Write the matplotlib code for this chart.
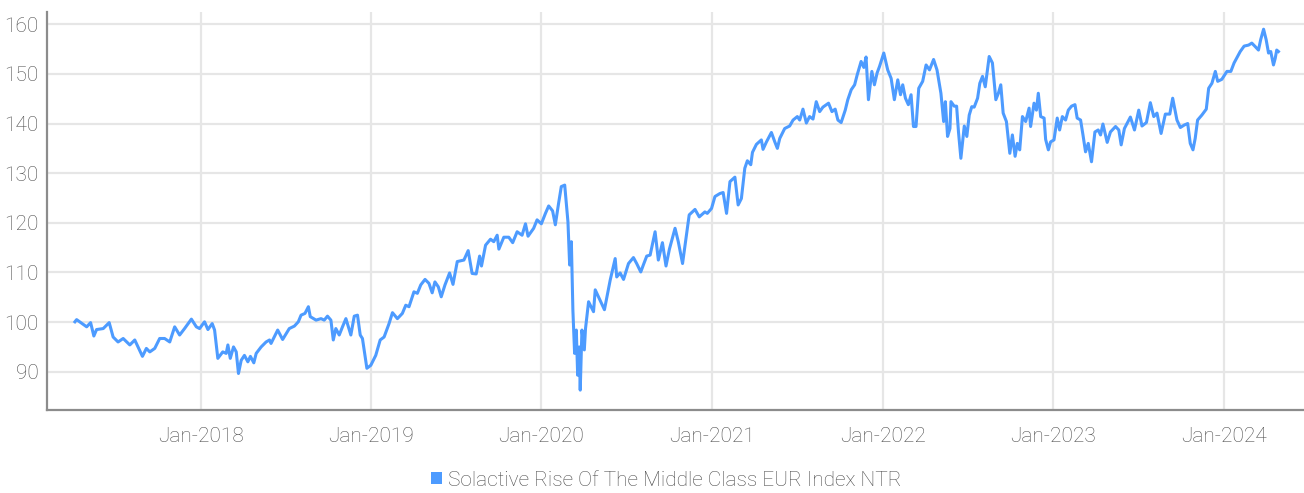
import matplotlib
matplotlib.use("Agg")
import matplotlib.pyplot as plt
import matplotlib.dates as mdates
from matplotlib.patches import Patch
import pandas as pd
import numpy as np

# ---- data: time as fractional year, index level ----
years = [
 2017.263, 2017.273, 2017.332, 2017.355, 2017.374, 2017.390, 2017.429, 2017.464, 2017.487, 2017.516,
 2017.546, 2017.585, 2017.614, 2017.659, 2017.682, 2017.702, 2017.731, 2017.760, 2017.789, 2017.819,
 2017.848, 2017.877, 2017.906, 2017.946, 2017.975, 2017.994, 2018.023, 2018.043, 2018.068, 2018.082,
 2018.101, 2018.130, 2018.150, 2018.160, 2018.174, 2018.193, 2018.209, 2018.222, 2018.238, 2018.257,
 2018.277, 2018.292, 2018.312, 2018.326, 2018.355, 2018.384, 2018.404, 2018.413, 2018.452, 2018.481,
 2018.520, 2018.550, 2018.573, 2018.589, 2018.612, 2018.632, 2018.643, 2018.677, 2018.706, 2018.725,
 2018.744, 2018.764, 2018.778, 2018.793, 2018.813, 2018.832, 2018.852, 2018.881, 2018.901, 2018.920,
 2018.936, 2018.949, 2018.975, 2018.998, 2019.027, 2019.053, 2019.076, 2019.105, 2019.125, 2019.154,
 2019.183, 2019.203, 2019.222, 2019.251, 2019.271, 2019.291, 2019.316, 2019.339, 2019.358, 2019.374,
 2019.394, 2019.411, 2019.433, 2019.460, 2019.480, 2019.505, 2019.544, 2019.569, 2019.592, 2019.616,
 2019.636, 2019.647, 2019.671, 2019.700, 2019.719, 2019.739, 2019.749, 2019.778, 2019.807, 2019.830,
 2019.856, 2019.885, 2019.905, 2019.920, 2019.953, 2019.973, 2019.998, 2020.022, 2020.041, 2020.064,
 2020.080, 2020.099, 2020.115, 2020.135, 2020.154, 2020.164, 2020.174, 2020.183, 2020.193, 2020.203,
 2020.211, 2020.220, 2020.226, 2020.236, 2020.250, 2020.257, 2020.275, 2020.304, 2020.314, 2020.333,
 2020.368, 2020.402, 2020.431, 2020.440, 2020.460, 2020.480, 2020.509, 2020.538, 2020.557, 2020.581,
 2020.596, 2020.616, 2020.636, 2020.665, 2020.684, 2020.708, 2020.729, 2020.749, 2020.782, 2020.801,
 2020.826, 2020.865, 2020.899, 2020.924, 2020.957, 2020.971, 2020.996, 2021.016, 2021.045, 2021.064,
 2021.084, 2021.104, 2021.133, 2021.152, 2021.171, 2021.191, 2021.206, 2021.226, 2021.236, 2021.259,
 2021.288, 2021.298, 2021.318, 2021.347, 2021.367, 2021.382, 2021.396, 2021.425, 2021.454, 2021.474,
 2021.499, 2021.513, 2021.532, 2021.552, 2021.571, 2021.591, 2021.610, 2021.630, 2021.649, 2021.682,
 2021.702, 2021.721, 2021.737, 2021.756, 2021.780, 2021.795, 2021.815, 2021.835, 2021.850, 2021.873,
 2021.889, 2021.902, 2021.916, 2021.936, 2021.951, 2021.967, 2021.981, 2022.006, 2022.029, 2022.049,
 2022.068, 2022.088, 2022.104, 2022.117, 2022.133, 2022.150, 2022.166, 2022.180, 2022.195, 2022.211,
 2022.234, 2022.254, 2022.274, 2022.298, 2022.318, 2022.341, 2022.357, 2022.367, 2022.380, 2022.394,
 2022.400, 2022.419, 2022.433, 2022.444, 2022.458, 2022.478, 2022.493, 2022.507, 2022.522, 2022.536,
 2022.556, 2022.569, 2022.585, 2022.601, 2022.624, 2022.643, 2022.663, 2022.678, 2022.692, 2022.706,
 2022.725, 2022.745, 2022.760, 2022.776, 2022.789, 2022.803, 2022.819, 2022.838, 2022.858, 2022.867,
 2022.887, 2022.901, 2022.912, 2022.926, 2022.946, 2022.955, 2022.971, 2022.984, 2023.004, 2023.023,
 2023.037, 2023.053, 2023.072, 2023.088, 2023.107, 2023.127, 2023.140, 2023.160, 2023.174, 2023.189,
 2023.205, 2023.224, 2023.244, 2023.263, 2023.277, 2023.291, 2023.316, 2023.335, 2023.365, 2023.384,
 2023.398, 2023.417, 2023.452, 2023.476, 2023.501, 2023.520, 2023.546, 2023.569, 2023.589, 2023.608,
 2023.632, 2023.657, 2023.683, 2023.700, 2023.725, 2023.745, 2023.768, 2023.788, 2023.803, 2023.819,
 2023.832, 2023.846, 2023.871, 2023.897, 2023.911, 2023.930, 2023.950, 2023.964, 2023.988, 2024.018,
 2024.041, 2024.060, 2024.080, 2024.096, 2024.119, 2024.145, 2024.164, 2024.184, 2024.203, 2024.216,
 2024.233, 2024.248, 2024.262, 2024.275, 2024.291, 2024.301, 2024.310, 2024.320,
]
values = [
 100.06, 100.5, 99.05, 99.9, 97.2, 98.5, 98.7, 99.9, 97.0, 96.0,
 96.7, 95.4, 96.4, 93.1, 94.7, 94.0, 94.7, 96.7, 96.7, 96.0,
 99.05, 97.4, 98.7, 100.6, 99.05, 98.7, 100.06, 98.5, 99.7, 98.4,
 92.7, 94.0, 93.7, 95.4, 92.7, 95.0, 94.0, 89.65, 92.3, 93.3,
 92.0, 93.1, 91.8, 93.7, 95.0, 96.0, 96.4, 95.7, 98.4, 96.5,
 98.7, 99.2, 100.06, 101.4, 101.75, 103.1, 101.1, 100.4, 100.7, 100.4,
 101.2, 100.4, 96.4, 98.7, 97.4, 99.05, 100.7, 97.4, 101.2, 101.4,
 97.4, 96.7, 90.7, 91.3, 93.3, 96.4, 97.0, 99.7, 101.9, 100.7,
 101.75, 103.4, 103.1, 106.1, 105.8, 107.5, 108.6, 107.8, 105.9, 108.1,
 107.1, 105.1, 107.5, 109.9, 107.6, 112.2, 112.5, 114.4, 109.8, 109.7,
 113.3, 111.3, 115.5, 116.7, 116.2, 117.5, 114.7, 117.1, 117.1, 116.0,
 118.2, 117.5, 119.8, 117.3, 118.9, 120.6, 119.8, 121.9, 123.4, 122.4,
 119.6, 123.9, 127.3, 127.6, 120.2, 111.5, 116.2, 102.4, 93.7, 98.4,
 89.3, 95.0, 86.3, 98.4, 94.4, 98.7, 104.1, 102.1, 106.5, 105.1,
 102.5, 108.5, 112.8, 109.1, 109.9, 108.6, 111.8, 113.0, 111.8, 110.1,
 111.5, 113.3, 113.5, 118.2, 112.5, 116.0, 111.3, 114.7, 118.9, 116.2,
 111.8, 121.6, 122.7, 121.2, 122.2, 121.9, 122.9, 125.3, 125.9, 126.1,
 121.9, 128.3, 129.2, 123.6, 124.9, 131.0, 132.5, 131.7, 134.2, 135.8,
 136.7, 134.8, 136.3, 138.2, 136.3, 135.0, 137.0, 139.0, 139.5, 140.7,
 141.4, 140.7, 142.9, 140.1, 141.4, 140.9, 144.4, 142.4, 143.3, 144.1,
 142.4, 142.9, 140.7, 140.2, 142.7, 144.8, 146.8, 147.8, 149.8, 152.5,
 151.3, 153.4, 144.8, 150.5, 147.8, 150.2, 151.5, 154.2, 150.8, 149.1,
 144.8, 148.8, 145.8, 147.8, 145.1, 143.8, 145.8, 139.4, 139.4, 147.1,
 148.5, 151.8, 150.8, 152.9, 150.8, 146.1, 140.4, 144.4, 137.4, 139.0,
 144.4, 143.5, 143.5, 138.3, 133.0, 139.5, 137.4, 141.7, 143.4, 143.3,
 145.1, 148.1, 149.5, 147.4, 153.5, 152.2, 144.8, 146.1, 147.8, 142.1,
 140.4, 134.0, 137.7, 133.4, 136.0, 134.7, 141.4, 140.4, 143.1, 139.4,
 144.1, 142.7, 146.1, 141.4, 141.1, 136.8, 134.7, 136.3, 136.7, 141.1,
 138.7, 141.4, 140.7, 142.7, 143.5, 143.8, 141.1, 140.7, 137.7, 134.3,
 136.0, 132.3, 138.3, 138.7, 137.7, 139.9, 136.2, 138.3, 139.4, 138.7,
 135.7, 139.0, 141.3, 138.7, 142.7, 139.5, 140.2, 144.2, 141.4, 142.1,
 138.0, 141.9, 141.9, 145.1, 140.7, 139.2, 139.7, 140.0, 136.0, 134.7,
 137.0, 140.7, 141.7, 142.9, 147.1, 148.1, 150.5, 148.5, 148.9, 150.5,
 150.5, 152.2, 153.5, 154.5, 155.6, 155.8, 156.2, 155.5, 154.8, 156.9,
 159.0, 156.9, 154.2, 154.5, 151.8, 153.1, 154.8, 154.5,
]
series_name = "Solactive Rise Of The Middle Class EUR Index NTR"
y_ticks = [90, 100, 110, 120, 130, 140, 150, 160]
x_tick_years = [2018, 2019, 2020, 2021, 2022, 2023, 2024]


def frac_year_to_date(y):
    y = np.asarray(y, dtype=float)
    base = pd.Timestamp("2018-01-01")
    return base + pd.to_timedelta((y - 2018.0) * 365.25, unit="D")


dates = frac_year_to_date(years)

plt.rcParams["font.family"] = ["Roboto", "DejaVu Sans"]
plt.rcParams["font.weight"] = "light"

fig = plt.figure(figsize=(13.04, 4.93), dpi=100)
ax = fig.add_axes([0.036, 0.168, 0.964, 0.808])

line_color = "#4D9BFF"
ax.plot(dates, values, color=line_color, lw=2.2, solid_joinstyle="round", zorder=3)

ax.set_ylim(82.26, 162.5)
ax.set_xlim(frac_year_to_date([2017.099])[0], frac_year_to_date([2024.47])[0])

ax.set_yticks(y_ticks)
ax.set_xticks([pd.Timestamp(f"{y}-01-01") for y in x_tick_years])
ax.xaxis.set_major_formatter(mdates.DateFormatter("%b-%Y"))

grid_color = "#e6e6e6"
ax.grid(True, color=grid_color, lw=1.6, zorder=0)
ax.set_axisbelow(True)

for s in ["top", "right"]:
    ax.spines[s].set_visible(False)
for s in ["left", "bottom"]:
    ax.spines[s].set_color("#8c8c8c")
    ax.spines[s].set_linewidth(1.6)

text_color = "#4d4d4d"
ax.tick_params(axis="both", length=0, labelsize=15, labelcolor=text_color)
ax.tick_params(axis="y", pad=6)
ax.tick_params(axis="x", pad=12)

handle = Patch(facecolor=line_color, edgecolor="none")
fig.legend([handle], [series_name], loc="center", bbox_to_anchor=(0.511, 0.026),
           frameon=False, fontsize=15, handlelength=0.5, handleheight=0.5,
           handletextpad=0.3, labelcolor=text_color)

fig.savefig("out.png", dpi=100)
